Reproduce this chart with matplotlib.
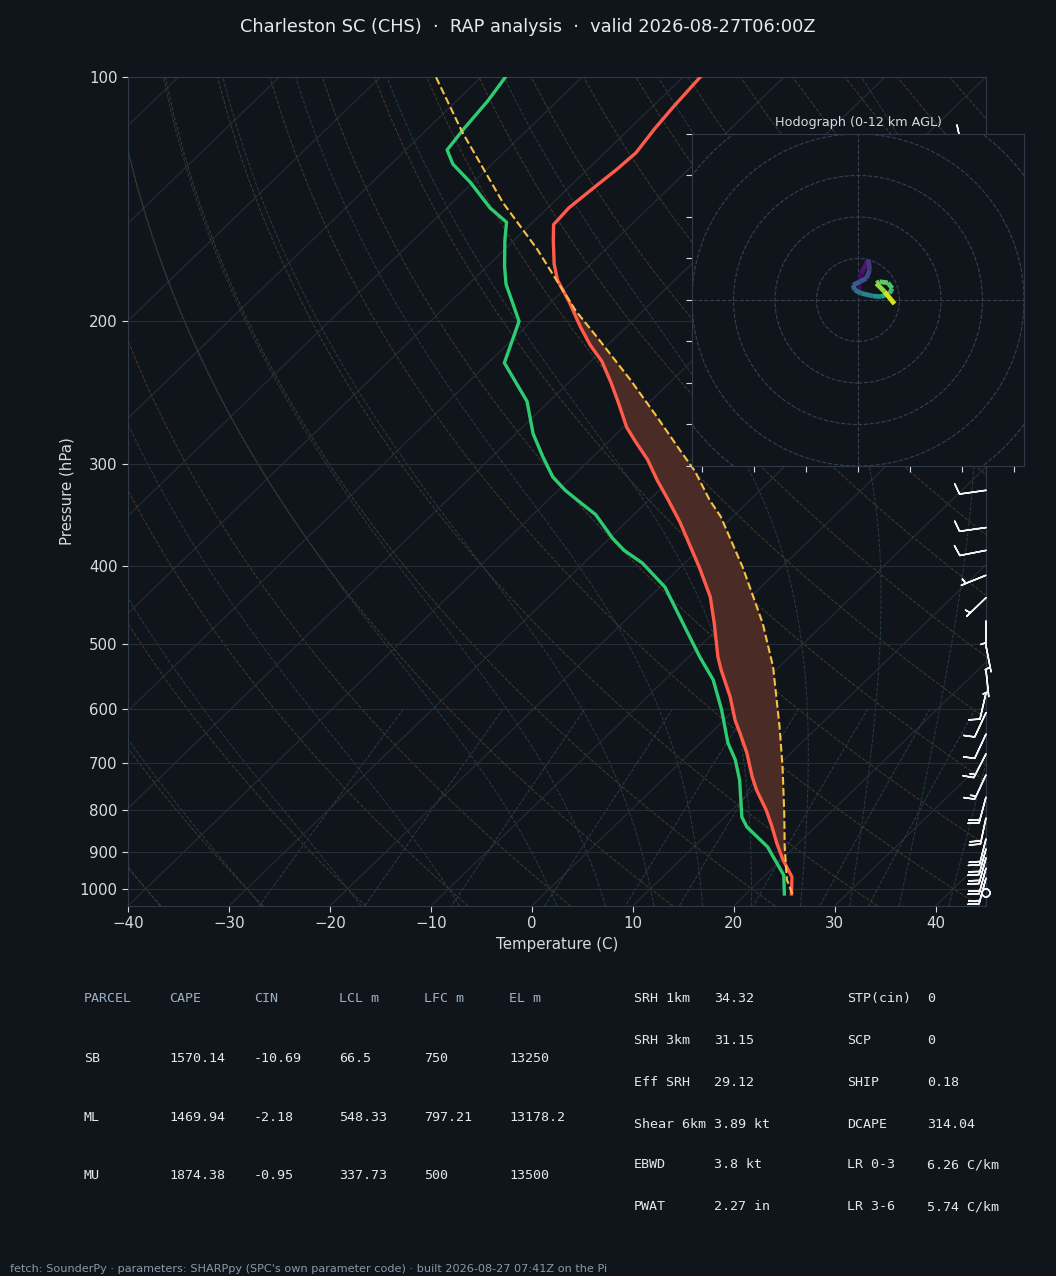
import numpy as np
import matplotlib
matplotlib.use("Agg")
import matplotlib.pyplot as plt
from matplotlib.transforms import Affine2D, blended_transform_factory
from matplotlib.collections import LineCollection
from matplotlib.patches import Circle
from matplotlib.ticker import NullLocator

BG = '#10151c'
GRID = '#252d37'
SPINE = '#2f3a48'
TXT = '#d6dbe1'

# -----------------------------------------------------------------------------
# Sounding (hPa / degC), surface first
# -----------------------------------------------------------------------------
p_temp = np.array([1015, 967, 922, 878, 839, 800, 756, 728, 680, 643, 620, 580, 538, 518,
                   471, 437, 402, 354, 332, 314, 296, 281, 270, 252, 238, 224, 214, 203,
                   189, 178, 170, 159, 152, 145, 137, 130, 124, 116, 109, 100])
t_temp = np.array([24.5, 22.8, 20.2, 17.8, 15.7, 13.4, 10.4, 8.6, 5.6, 2.9, 1.1, -1.8, -5.4, -7.1,
                   -10.9, -14.0, -18.1, -24.6, -28.1, -31.2, -34.3, -37.4, -39.7, -43.0, -45.8,
                   -48.9, -51.7, -54.6, -58.3, -61.6, -63.6, -66.1, -67.7, -67.9, -67.5, -67.1,
                   -66.9, -67.5, -67.9, -68.3])

p_dew = np.array([1015, 962, 888, 839, 816, 735, 694, 661, 602, 553, 518, 471, 425, 397, 383,
                  370, 346, 335, 323, 311, 294, 275, 251, 225, 200, 180, 171, 159, 151, 145,
                  135, 128, 123, 116, 107, 100])
td_dew = np.array([23.8, 21.8, 17.3, 13.2, 11.7, 7.7, 5.2, 2.7, -1.3, -5.2, -8.9, -14.0, -19.5,
                   -24.2, -27.3, -29.7, -33.8, -36.4, -39.3, -41.9, -44.9, -48.3, -52.2, -58.4,
                   -61.2, -66.3, -68.3, -70.9, -72.6, -75.7, -80.2, -83.9, -85.9, -86.4, -86.9,
                   -87.6])

p_parcel = np.array([1015, 975, 888, 807, 708, 632, 533, 471, 402, 348, 332, 306, 288, 262,
                     236, 211, 194, 178, 163, 143, 117, 100])
t_parcel = np.array([24.6, 22.6, 19.0, 15.5, 10.6, 6.2, -0.6, -6.1, -13.8, -21.2, -24.0, -28.4,
                     -32.1, -37.8, -44.2, -51.3, -56.7, -61.7, -66.8, -74.9, -86.2, -94.5])

# wind barbs (hPa, knots, direction from)
p_barb = [1012, 970, 943, 916, 893, 868, 818, 771, 724, 682, 645, 607, 574, 538, 502, 468,
          438, 411, 383, 359, 323, 290, 265, 245, 225, 200, 175, 150, 135, 119]
spd_barb = [0, 20, 20, 20, 20, 20, 20, 20, 15, 15, 10, 10, 10, 5, 5, 5,
            5, 5, 10, 10, 10, 15, 15, 15, 15, 15, 15, 15, 10, 10]
dir_barb = [0, 195, 195, 195, 195, 194, 192, 195, 205, 207, 205, 205, 193, 174, 169, 180,
            226, 248, 259, 262, 262, 265, 250, 240, 235, 260, 280, 275, 270, 275]

# hodograph trace (km AGL, kt)
hodo_z = [0, 0.5, 1.0, 1.5, 2.2, 2.8, 3.3, 3.8, 4.3, 4.8, 5.8, 6.6, 7.8, 8.4, 8.8, 9.2, 9.5, 10.5, 12.0]
hodo_u = [0.0, 1.6, 4.0, 5.1, 5.6, 4.0, 0.8, -2.4, -1.6, 1.6, 7.2, 11.2, 15.2, 16.5, 14.4, 10.4, 8.8, 12.8, 17.6]
hodo_v = [3.2, 12.8, 17.6, 19.5, 14.4, 10.4, 8.8, 7.2, 4.8, 3.2, 1.9, 1.6, 3.2, 5.6, 8.3, 8.8, 8.0, 4.0, -1.9]

# parameter tables
parcel_head = ['PARCEL', 'CAPE', 'CIN', 'LCL m', 'LFC m', 'EL m']
parcel_rows = [['SB', '1570.14', '-10.69', '66.5', '750', '13250'],
               ['ML', '1469.94', '-2.18', '548.33', '797.21', '13178.2'],
               ['MU', '1874.38', '-0.95', '337.73', '500', '13500']]
idx_names_1 = ['SRH 1km', 'SRH 3km', 'Eff SRH', 'Shear 6km', 'EBWD', 'PWAT']
idx_vals_1 = ['34.32', '31.15', '29.12', '3.89 kt', '3.8 kt', '2.27 in']
idx_names_2 = ['STP(cin)', 'SCP', 'SHIP', 'DCAPE', 'LR 0-3', 'LR 3-6']
idx_vals_2 = ['0', '0', '0.18', '314.04', '6.26 C/km', '5.74 C/km']

# -----------------------------------------------------------------------------
# thermo helpers for the background lines
# -----------------------------------------------------------------------------
def dtdp(p, t):
    es = 6.112 * np.exp(17.67 * (t - 273.15) / (t - 29.65))
    rs = 0.622 * es / (p - es)
    return (287.05 * t + 2.501e6 * rs) / (1004.7 + 2.501e6 ** 2 * rs * 0.622 / (287.05 * t * t)) / p

def moist_adiabat(t0, pres):
    t = np.empty(len(pres))
    t[0] = t0 + 273.15
    for i in range(1, len(pres)):
        h = pres[i] - pres[i - 1]
        p0, y = pres[i - 1], t[i - 1]
        k1 = dtdp(p0, y)
        k2 = dtdp(p0 + h / 2, y + h / 2 * k1)
        k3 = dtdp(p0 + h / 2, y + h / 2 * k2)
        k4 = dtdp(p0 + h, y + h * k3)
        t[i] = y + h / 6 * (k1 + 2 * k2 + 2 * k3 + k4)
    return t - 273.15

# -----------------------------------------------------------------------------
# Skew-T
# -----------------------------------------------------------------------------
fig = plt.figure(figsize=(10.56, 12.76), dpi=100, facecolor=BG)
ax = fig.add_axes([0.1212, 0.2900, 0.8125, 0.6497], facecolor=BG)
ax.set_yscale('log')
ax.set_ylim(1050, 100)
ax.set_xlim(-40, 45)
ax.autoscale(False)

skew = ax.transScale + (ax.transLimits + Affine2D().skew_deg(45, 0)) + ax.transAxes

# isotherms
ax.vlines(np.arange(-130, 50, 10), 1050, 100, transform=skew, colors=GRID, lw=0.8, zorder=1)

# dry adiabats
p_bg = np.linspace(1050, 100, 80)
dry = [np.column_stack(((t + 273.15) * (p_bg / 1000.0) ** 0.28571 - 273.15, p_bg))
       for t in np.arange(-40, 246, 10)]
ax.add_collection(LineCollection(dry, transform=skew, colors='#463929', linestyles='dashed',
                                 linewidths=0.7, zorder=1))

# moist adiabats
p_up = np.linspace(1000, 100, 181)
p_dn = np.linspace(1000, 1050, 11)
moist = []
for t0 in np.concatenate((np.arange(-40, 0, 10), np.arange(0, 46, 5))):
    tu = moist_adiabat(t0, p_up)
    td = moist_adiabat(t0, p_dn)
    moist.append(np.column_stack((np.concatenate((td[::-1], tu[1:])),
                                  np.concatenate((p_dn[::-1], p_up[1:])))))
ax.add_collection(LineCollection(moist, transform=skew, colors='#263c46', linestyles='dashed',
                                 linewidths=0.7, zorder=1))

# mixing ratio lines
p_mix = np.linspace(600, 1050, 30)
mix = []
for w in [0.0004, 0.001, 0.002, 0.004, 0.007, 0.01, 0.016, 0.024, 0.032]:
    e = p_mix * w / (0.622 + w)
    le = np.log(e / 6.112)
    mix.append(np.column_stack((243.5 * le / (17.67 - le), p_mix)))
ax.add_collection(LineCollection(mix, transform=skew, colors='#2a3d4c', linestyles='dashed',
                                 linewidths=0.7, zorder=1))

# CAPE shading
p_all = np.unique(np.concatenate([p_temp, p_parcel])).astype(float)
t_on = np.interp(np.log(p_all), np.log(p_temp[::-1]), t_temp[::-1])
par_on = np.interp(np.log(p_all), np.log(p_parcel[::-1]), t_parcel[::-1])
ax.fill_betweenx(p_all, t_on, par_on, where=par_on > t_on, interpolate=True, transform=skew,
                 color='#4a2b25', lw=0, zorder=2)

ax.plot(t_temp, p_temp, color='#ff5a4a', lw=2.4, transform=skew, zorder=4)
ax.plot(td_dew, p_dew, color='#2ecc71', lw=2.4, transform=skew, zorder=4)
ax.plot(t_parcel, p_parcel, color='#f7c244', lw=1.5, ls='--', transform=skew, zorder=4)

# barbs on the right edge
spd = np.array(spd_barb, dtype=float)
dr = np.radians(dir_barb)
bt = blended_transform_factory(ax.transAxes, ax.transData)
ax.barbs(np.ones(len(p_barb)), p_barb, -spd * np.sin(dr), -spd * np.cos(dr), transform=bt,
         length=6.2, color='#f2f2f2', linewidth=1.1, clip_on=False, zorder=5)

yt = [100, 200, 300, 400, 500, 600, 700, 800, 900, 1000]
ax.set_yticks(yt)
ax.set_yticklabels([str(v) for v in yt])
ax.yaxis.set_minor_locator(NullLocator())
ax.set_xticks(np.arange(-40, 41, 10))
ax.yaxis.grid(True, color=GRID, lw=0.8, zorder=1)
ax.tick_params(colors=TXT, labelsize=10.8, length=4)
for s in ax.spines.values():
    s.set_color(SPINE)
ax.set_xlabel('Temperature (C)', color=TXT, fontsize=10.8)
ax.set_ylabel('Pressure (hPa)', color=TXT, fontsize=10.8)

fig.text(0.5, 0.9788, 'Charleston SC (CHS)  \u00b7  RAP analysis  \u00b7  valid 2026-08-27T06:00Z',
         ha='center', va='center', color='#e6e9ed', fontsize=12.8)

# -----------------------------------------------------------------------------
# Hodograph
# -----------------------------------------------------------------------------
hx = fig.add_axes([0.6553, 0.6348, 0.3144, 0.2602], facecolor=BG)
hx.set_xlim(-80, 80)
hx.set_ylim(-80, 80)
for r in range(20, 121, 20):
    hx.add_patch(Circle((0, 0), r, fill=False, ls='--', ec='#364150', lw=0.8))
hx.axhline(0, ls='--', color='#364150', lw=0.8)
hx.axvline(0, ls='--', color='#364150', lw=0.8)
pts = np.column_stack((hodo_u, hodo_v))
segs = np.stack([pts[:-1], pts[1:]], axis=1)
zmid = (np.array(hodo_z[:-1]) + np.array(hodo_z[1:])) / 2
lc = LineCollection(segs, cmap='viridis', norm=plt.Normalize(0, 12), linewidths=3.4)
lc.set_array(zmid)
hx.add_collection(lc)
hx.set_xticks([-75, -50, -25, 0, 25, 50, 75])
hx.set_yticks(np.arange(-80, 81, 20))
hx.tick_params(labelleft=False, labelbottom=False, colors=TXT, length=4)
for s in hx.spines.values():
    s.set_color(SPINE)
hx.set_title('Hodograph (0-12 km AGL)', color=TXT, fontsize=9.2, pad=6)

# -----------------------------------------------------------------------------
# Parameter tables
# -----------------------------------------------------------------------------
mono = 'DejaVu Sans Mono'
col_x = [0.0795, 0.1600, 0.2405, 0.3210, 0.4015, 0.4820]
row_y = [0.2171, 0.1708, 0.1246, 0.0784]
for x, h in zip(col_x, parcel_head):
    fig.text(x, row_y[0], h, color='#9cb0c4', fontsize=9.6, family=mono, va='center')
for y, row in zip(row_y[1:], parcel_rows):
    for x, val in zip(col_x, row):
        fig.text(x, y, val, color='#e4e7eb', fontsize=9.6, family=mono, va='center')

idx_y = [0.2171, 0.1842, 0.1513, 0.1191, 0.0870, 0.0541]
for y, n1, v1, n2, v2 in zip(idx_y, idx_names_1, idx_vals_1, idx_names_2, idx_vals_2):
    fig.text(0.6004, y, n1, color='#e4e7eb', fontsize=9.6, family=mono, va='center')
    fig.text(0.6761, y, v1, color='#e4e7eb', fontsize=9.6, family=mono, va='center')
    fig.text(0.8021, y, n2, color='#e4e7eb', fontsize=9.6, family=mono, va='center')
    fig.text(0.8778, y, v2, color='#e4e7eb', fontsize=9.6, family=mono, va='center')

fig.text(0.0095, 0.0055, "fetch: SounderPy \u00b7 parameters: SHARPpy (SPC's own parameter code) \u00b7 "
         "built 2026-08-27 07:41Z on the Pi", color='#8b98a6', fontsize=8.1, va='center')

fig.savefig('out.png', dpi=100, facecolor=BG)
